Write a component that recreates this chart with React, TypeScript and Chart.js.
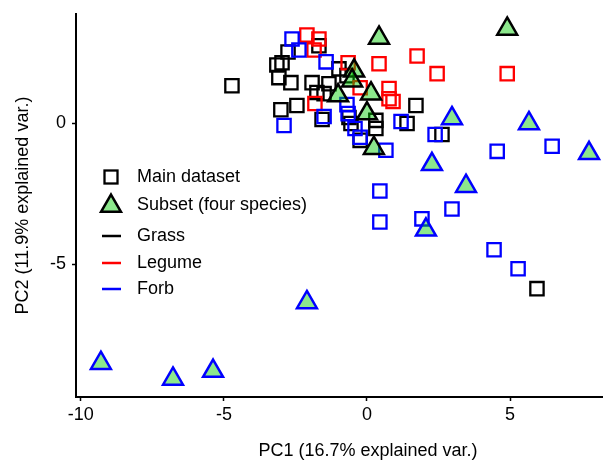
import React, { useEffect, useRef } from 'react';
import { Chart, registerables } from 'chart.js';

Chart.register(...registerables);

// ---- Text ----
const xTitle = 'PC1 (16.7% explained var.)';
const yTitle = 'PC2 (11.9% explained var.)';
const shapeLabels = ['Main dataset', 'Subset (four species)'];
const groupLabels = ['Grass', 'Legume', 'Forb'];
const groupColors = ['#000000', '#ff0000', '#0000ff'];
const subsetFill = 'rgba(0,205,0,0.45)';

// ---- Tick labels ----
const xTicks = [-10, -5, 0, 5];
const yTicks = [-5, 0];

// ---- Data: [PC1, PC2] ----
const grassMain: [number, number][] = [
  [-4.72, 1.34], [-3.15, 2.08], [-2.97, 2.16], [-2.76, 2.54], [-1.68, 2.76],
  [-3.08, 1.63], [-2.66, 1.45], [-1.92, 1.45], [-1.33, 1.41], [-1.75, 1.1],
  [-1.5, 1.06], [-0.98, 1.94], [-3.01, 0.49], [-2.45, 0.64], [-1.57, 0.14],
  [1.71, 0.64], [1.4, 0.0], [2.62, -0.39], [5.94, -5.87], [-0.63, 0.21],
  [-0.56, 0.0], [-0.24, -0.6], [0.31, 0.11], [0.31, -0.18], [-0.7, 1.7],
];
const legumeMain: [number, number][] = [
  [-2.1, 3.14], [-1.68, 3.0], [-1.85, 2.61], [-0.66, 2.16], [0.42, 2.12],
  [0.77, 1.24], [0.91, 0.78], [0.77, 0.88], [1.75, 2.4], [2.45, 1.77],
  [4.9, 1.77], [-1.82, 0.71], [-0.24, 1.27],
];
const forbMain: [number, number][] = [
  [-2.62, 3.0], [-2.38, 2.61], [-1.43, 2.19], [-2.9, -0.07], [-1.5, 0.25],
  [-0.7, 0.67], [-0.42, -0.18], [-0.24, -0.49], [0.66, -0.95], [1.19, 0.07],
  [2.38, -0.39], [4.55, -0.99], [6.47, -0.81], [0.45, -2.4], [0.45, -3.5],
  [1.92, -3.39], [2.97, -3.04], [4.44, -4.49], [5.28, -5.16], [-0.66, 0.35],
];
const grassSubset: [number, number][] = [
  [0.42, 3.04], [4.9, 3.36], [-0.45, 1.87], [-0.52, 1.52], [-1.01, 0.99],
  [0.14, 1.06], [0.0, 0.35], [0.24, -0.88],
];
const forbSubset: [number, number][] = [
  [2.97, 0.18], [5.66, 0.0], [7.76, -1.06], [2.27, -1.45], [3.46, -2.23],
  [2.06, -3.78], [-2.1, -6.36], [-9.3, -8.52], [-6.78, -9.08], [-5.38, -8.8],
];

const FONT = '"Liberation Sans", Arial, Helvetica, sans-serif';
const FONT_SIZE = 18;

const toPts = (arr: [number, number][]) => arr.map(([x, y]) => ({ x, y }));

// Let the plotting region run to the canvas' right edge (the picture is cropped there).
const stretchPlugin = {
  id: 'stretchX',
  afterLayout(chart: any) {
    const ca = chart.chartArea;
    const right = chart.width;
    ca.right = right;
    ca.width = right - ca.left;
    const xs = chart.scales.x;
    xs.right = right;
    xs.width = right - xs.left;
    xs.configure();
  },
};

const legendPlugin = {
  id: 'pcaLegend',
  afterDatasetsDraw(chart: any) {
    const ctx: CanvasRenderingContext2D = chart.ctx;
    const ca = chart.chartArea;
    const mx = ca.left + 35;
    const tx = ca.left + 61;
    const rows = [177, 205, 236, 263, 289];
    ctx.save();
    ctx.strokeStyle = '#000';
    ctx.lineWidth = 2.3;
    ctx.strokeRect(mx - 6.5, rows[0] - 6.5, 13, 13);
    const r = 11.5;
    const cy = rows[1] + 1;
    ctx.beginPath();
    ctx.moveTo(mx, cy - r);
    ctx.lineTo(mx + r * Math.sin((2 * Math.PI) / 3), cy + r / 2);
    ctx.lineTo(mx - r * Math.sin((2 * Math.PI) / 3), cy + r / 2);
    ctx.closePath();
    ctx.fillStyle = subsetFill;
    ctx.fill();
    ctx.lineWidth = 2.5;
    ctx.strokeStyle = '#000';
    ctx.stroke();
    groupLabels.forEach((_, i) => {
      ctx.beginPath();
      ctx.strokeStyle = groupColors[i];
      ctx.lineWidth = 2.5;
      ctx.moveTo(mx - 9, rows[2 + i]);
      ctx.lineTo(mx + 10, rows[2 + i]);
      ctx.stroke();
    });
    ctx.fillStyle = '#000';
    ctx.font = `${FONT_SIZE}px ${FONT}`;
    ctx.textBaseline = 'middle';
    ctx.textAlign = 'left';
    const texts = [...shapeLabels, ...groupLabels];
    texts.forEach((t, i) => ctx.fillText(t, tx, rows[i]));
    ctx.restore();
  },
};

export default function App() {
  const ref = useRef<HTMLCanvasElement>(null);

  useEffect(() => {
    const canvas = ref.current;
    if (!canvas) return;

    const squareDs = (data: [number, number][], color: string, label: string) => ({
      label,
      data: toPts(data),
      showLine: false,
      pointStyle: 'rect',
      pointRadius: 9.4,
      pointBorderWidth: 2.3,
      pointBackgroundColor: 'rgba(0,0,0,0)',
      pointBorderColor: color,
      borderColor: color,
      backgroundColor: 'rgba(0,0,0,0)',
    });
    const triDs = (data: [number, number][], color: string, label: string) => ({
      label,
      data: toPts(data),
      showLine: false,
      pointStyle: 'triangle',
      pointRadius: 11.5,
      pointBorderWidth: 2.5,
      pointBackgroundColor: subsetFill,
      pointBorderColor: color,
      borderColor: color,
      backgroundColor: subsetFill,
    });

    const tickFont = { family: FONT, size: FONT_SIZE };

    const chart = new Chart(canvas, {
      type: 'scatter',
      data: {
        datasets: [
          triDs(grassSubset, groupColors[0], 'Grass subset'),
          triDs(forbSubset, groupColors[2], 'Forb subset'),
          squareDs(forbMain, groupColors[2], 'Forb'),
          squareDs(legumeMain, groupColors[1], 'Legume'),
          squareDs(grassMain, groupColors[0], 'Grass'),
        ] as any,
      },
      options: {
        responsive: false,
        animation: false,
        events: [],
        devicePixelRatio: 1,
        layout: { padding: { top: 12, right: 0, bottom: 0, left: 0 } },
        plugins: {
          legend: { display: false },
          tooltip: { enabled: false },
        },
        scales: {
          x: {
            type: 'linear',
            min: -10.17,
            max: 10.24,
            afterBuildTicks: (s: any) => {
              s.ticks = xTicks.map((v) => ({ value: v }));
            },
            afterFit: (s: any) => {
              s.height = 66;
            },
            grid: {
              display: true,
              drawOnChartArea: false,
              drawTicks: true,
              tickLength: 4,
              tickColor: '#000',
              tickWidth: 1.5,
            },
            border: { display: true, color: '#000', width: 2 },
            ticks: {
              color: '#000',
              font: tickFont,
              padding: 3,
              maxRotation: 0,
              autoSkip: false,
            },
            title: {
              display: true,
              text: xTitle,
              color: '#000',
              font: tickFont,
              padding: { top: 0, bottom: 1 },
            },
          },
          y: {
            type: 'linear',
            min: -9.72,
            max: 3.89,
            afterBuildTicks: (s: any) => {
              s.ticks = yTicks.map((v) => ({ value: v }));
            },
            afterFit: (s: any) => {
              s.width = 76;
              s.paddingTop = 0;
              s.paddingBottom = 0;
            },
            grid: {
              display: true,
              drawOnChartArea: false,
              drawTicks: true,
              tickLength: 4,
              tickColor: '#000',
              tickWidth: 1.5,
            },
            border: { display: true, color: '#000', width: 2 },
            ticks: {
              color: '#000',
              font: tickFont,
              padding: 6,
              autoSkip: false,
            },
            title: {
              display: true,
              text: yTitle,
              color: '#000',
              font: tickFont,
              padding: { top: 12, bottom: 0 },
            },
          },
        },
      },
      plugins: [stretchPlugin, legendPlugin],
    } as any);

    return () => chart.destroy();
  }, []);

  return (
    <div
      style={{
        position: 'fixed',
        left: 0,
        top: 0,
        width: 603,
        height: 463,
        overflow: 'hidden',
        background: '#fff',
      }}
    >
      <canvas ref={ref} width={660} height={463} style={{ width: 660, height: 463, display: 'block' }} />
    </div>
  );
}
